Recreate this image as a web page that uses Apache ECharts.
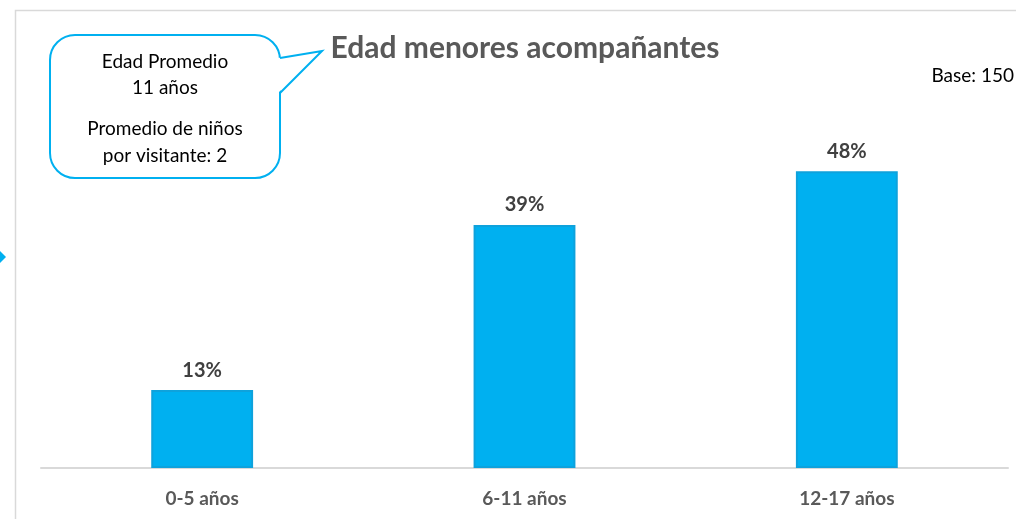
<!DOCTYPE html>
<html>
<head>
<meta charset="utf-8">
<script src="https://cdn.jsdelivr.net/npm/echarts@6/dist/echarts.min.js"></script>
<style>
  html, body { margin: 0; padding: 0; background: #fff; }
  #chart { width: 1016px; height: 519px; }
</style>
</head>
<body>
<div id="chart"></div>
<script>
// datos (porcentaje de menores por rango de edad)
const categories = ['0-5 años', '6-11 años', '12-17 años']
const values = [12.6, 39.3, 48.0]
const titleText = 'Edad menores acompañantes'
const baseText = 'Base: 150'
const calloutTop = ['Edad Promedio', '11 años']
const calloutBottom = ['Promedio de niños', 'por visitante: 2']

const chart = echarts.init(document.getElementById('chart'))

const font = 'Lato, "Open Sans", sans-serif'

const option = {
  animation: false,
  backgroundColor: '#fff',
  grid: { left: 41, right: 8, top: 97, bottom: 51 },
  xAxis: {
    type: 'category',
    data: categories,
    axisLine: { lineStyle: { color: '#d9d9d9', width: 2 } },
    axisTick: { show: false },
    axisLabel: {
      color: '#595959',
      fontWeight: 'bold',
      fontSize: 19,
      fontFamily: font,
      margin: 21
    }
  },
  yAxis: {
    type: 'value',
    min: 0,
    max: 60,
    show: false
  },
  series: [
    {
      type: 'bar',
      data: values,
      barWidth: '31.6%',
      itemStyle: {
        color: '#00b0f0',
        borderColor: '#0ea2dc',
        borderWidth: 2
      },
      label: {
        show: true,
        position: 'top',
        distance: 10,
        formatter: (p) => Math.round(p.value) + '%',
        color: '#404040',
        fontWeight: 'bold',
        fontSize: 20,
        fontFamily: font
      }
    }
  ],
  graphic: [
    // marco
    {
      type: 'rect',
      shape: { x: 15.5, y: 10.5, width: 1100, height: 600 },
      style: { fill: 'none', stroke: '#d9d9d9', lineWidth: 1.5 },
      silent: true
    },
    // flecha recortada a la izquierda
    {
      type: 'polygon',
      shape: { points: [[0, 251], [6, 257], [0, 263]] },
      style: { fill: '#00b0f0' }
    },
    // globo de texto
    {
      type: 'rect',
      shape: { x: 50, y: 35, width: 230, height: 143, r: 25 },
      style: { fill: '#fff', stroke: '#00b0f0', lineWidth: 2 }
    },
    {
      type: 'polygon',
      shape: { points: [[278, 58], [322, 51], [278, 93]] },
      style: { fill: '#fff' }
    },
    {
      type: 'polyline',
      shape: { points: [[280, 58], [322, 51], [280, 93]] },
      style: { fill: 'none', stroke: '#00b0f0', lineWidth: 2 }
    },
    {
      type: 'text',
      x: 165,
      y: 75,
      style: {
        text: calloutTop.join('\n'),
        fill: '#000',
        fontSize: 19,
        fontFamily: font,
        lineHeight: 26,
        align: 'center',
        verticalAlign: 'middle'
      }
    },
    {
      type: 'text',
      x: 165,
      y: 142,
      style: {
        text: calloutBottom.join('\n'),
        fill: '#000',
        fontSize: 19,
        fontFamily: font,
        lineHeight: 27,
        align: 'center',
        verticalAlign: 'middle'
      }
    },
    {
      type: 'text',
      x: 525,
      y: 48,
      style: {
        text: titleText,
        fill: '#595959',
        fontSize: 30,
        fontWeight: 'bold',
        fontFamily: font,
        align: 'center',
        verticalAlign: 'middle'
      }
    },
    {
      type: 'text',
      x: 1014,
      y: 76,
      style: {
        text: baseText,
        fill: '#000',
        fontSize: 19,
        fontFamily: font,
        align: 'right',
        verticalAlign: 'middle'
      }
    }
  ]
}

chart.setOption(option)
</script>
</body>
</html>
